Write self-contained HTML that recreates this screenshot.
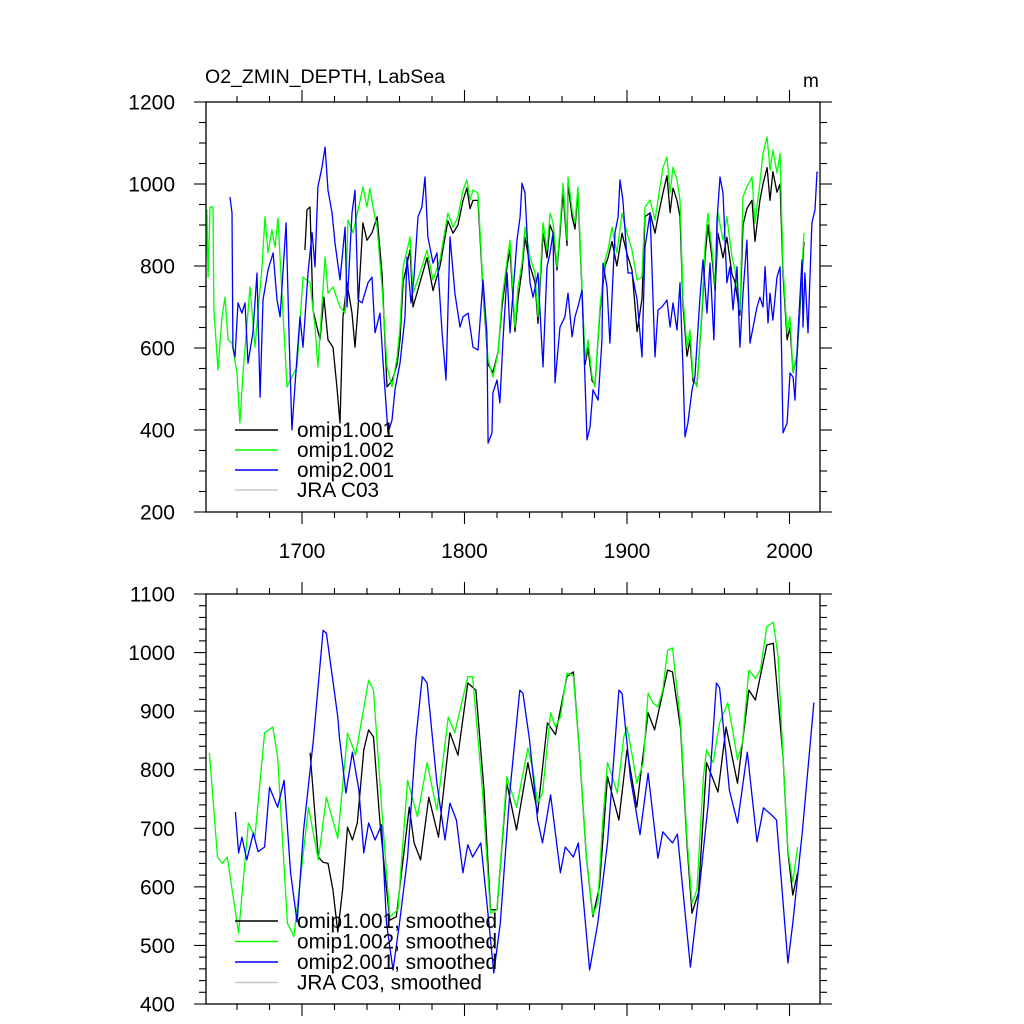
<!DOCTYPE html>
<html><head><meta charset="utf-8"><style>
html,body{margin:0;padding:0;background:#fff;}
svg{display:block;font-family:"Liberation Sans",Arial,sans-serif;}
</style></head><body>
<svg id="chart" width="1024" height="1024" viewBox="0 0 1024 1024" xmlns="http://www.w3.org/2000/svg">
<rect width="1024" height="1024" fill="#fff"/>
<text x="205" y="83" font-size="19" textLength="240" lengthAdjust="spacingAndGlyphs">O2_ZMIN_DEPTH, LabSea</text>
<text x="803" y="87" font-size="19">m</text>
<g id="top"></g><g id="bot"></g>
</svg>
<script>
const xTickYears = [1700, 1800, 1900, 2000];
const topYTicks = [200, 400, 600, 800, 1000, 1200];
const botYTicks = [400, 500, 600, 700, 800, 900, 1000, 1100];

const rawBlack = [[1701.8,839],[1703.1,937],[1704.9,944],[1706.8,693],[1709.2,651],[1711.1,620],[1713.5,724],[1716,620],[1719.1,602],[1721.5,505],[1723.4,417],[1725.2,676],[1727.7,759],[1730.8,685],[1732.6,602],[1734.5,700],[1737.5,905],[1740,863],[1743.1,881],[1746.2,920],[1749.2,783],[1752.3,505],[1755.4,520],[1758.5,560],[1760.3,620],[1762.2,760],[1766.5,840],[1768.3,700],[1772.6,760],[1776.9,820],[1780.6,740],[1784.9,800],[1789.8,910],[1792.9,880],[1796,900],[1799.1,960],[1801.5,990],[1803.4,940],[1805.2,960],[1808.3,960],[1811.4,740],[1814.5,560],[1817.5,540],[1820.6,590],[1823.1,700],[1826.2,800],[1828,840],[1831.1,640],[1832.9,720],[1835.4,790],[1837.2,870],[1840.3,800],[1843.4,760],[1845.2,660],[1848.3,880],[1850.8,820],[1852.6,900],[1854.5,880],[1856.9,790],[1858.8,880],[1860.6,980],[1863.1,850],[1863.7,1000],[1866.2,920],[1868,890],[1869.8,980],[1872.3,740],[1874.2,560],[1876,600],[1878.5,520],[1880.3,510],[1883.4,690],[1886.5,800],[1888.3,820],[1890.8,860],[1893.8,800],[1896.9,880],[1900,830],[1903.1,790],[1906.2,640],[1909.2,720],[1911.1,920],[1914.2,930],[1917.2,880],[1919.1,920],[1922.2,980],[1924.6,1020],[1926.5,930],[1928.3,990],[1930.8,960],[1932.6,920],[1934.5,700],[1936.9,580],[1938.8,620],[1940.6,520],[1943.1,510],[1946.2,690],[1948,820],[1949.8,900],[1952.3,820],[1954.2,740],[1956,880],[1959.1,820],[1961.5,870],[1964.6,780],[1966.5,760],[1969.5,680],[1971.4,900],[1973.8,940],[1976.9,960],[1978.8,860],[1981.8,960],[1983.7,1000],[1986.2,1040],[1988,960],[1989.8,1030],[1992.3,980],[1994.2,1000],[1996,780],[1998.5,620],[2000.3,650],[2002.2,540],[2004.6,580],[2006.5,700],[2008.9,860]];

const rawGreen = [[1641,822],[1641.5,937],[1642.2,773],[1643.4,944],[1645.2,944],[1645.8,693],[1648.3,546],[1650.8,676],[1652.6,724],[1654.5,620],[1656.9,612],[1660,539],[1661.8,417],[1663.7,539],[1668,749],[1671.1,602],[1675.4,798],[1677.2,920],[1679.1,832],[1681.5,888],[1683.4,846],[1685.2,917],[1688.3,685],[1690.8,505],[1693.8,529],[1696.9,554],[1700.6,773],[1704.9,759],[1708,651],[1709.8,554],[1714.2,822],[1716,734],[1719.1,749],[1723.4,700],[1726.5,685],[1728.3,912],[1731.4,881],[1734.5,937],[1737.5,993],[1740,944],[1741.8,990],[1743.7,944],[1746.2,895],[1749.2,749],[1752.3,554],[1755.4,505],[1758.5,578],[1760.3,651],[1762.2,798],[1766.5,871],[1768.3,734],[1772.6,783],[1776.9,839],[1780.6,766],[1784.9,815],[1789.8,929],[1792.9,895],[1796,920],[1799.1,985],[1801.5,1010],[1803.4,961],[1805.2,985],[1808.3,978],[1811.4,749],[1814.5,571],[1817.5,529],[1820.6,588],[1823.1,717],[1826.2,815],[1828,863],[1831.1,651],[1832.9,749],[1835.4,807],[1837.2,895],[1840.3,822],[1843.4,783],[1845.2,676],[1848.3,905],[1850.8,839],[1852.6,929],[1854.5,905],[1856.9,798],[1858.8,895],[1860.6,1002],[1863.1,863],[1863.7,1017],[1866.2,937],[1868,905],[1869.8,993],[1872.3,749],[1874.2,571],[1876,620],[1878.5,529],[1880.3,505],[1883.4,700],[1886.5,815],[1888.3,839],[1890.8,895],[1893.8,832],[1896.9,929],[1900,881],[1903.1,839],[1906.2,766],[1909.2,773],[1911.1,944],[1914.2,961],[1917.2,912],[1919.1,961],[1922.2,1041],[1924.6,1066],[1926.5,978],[1928.3,1041],[1930.8,1010],[1932.6,961],[1934.5,717],[1936.9,602],[1938.8,644],[1940.6,529],[1943.1,505],[1946.2,700],[1948,846],[1949.8,929],[1952.3,839],[1954.2,749],[1956,929],[1959.1,863],[1961.5,920],[1964.6,822],[1966.5,790],[1969.5,693],[1971.4,969],[1973.8,993],[1976.9,1017],[1978.8,905],[1981.8,1002],[1983.7,1075],[1986.2,1115],[1988,1034],[1989.8,1083],[1992.3,1027],[1994.2,1075],[1996,798],[1998.5,637],[2000.3,676],[2002.2,539],[2004.6,588],[2006.5,717],[2008.9,881]];

const rawBlue = [[1655.7,968],[1656.9,929],[1657.5,602],[1658.8,578],[1660.6,710],[1663,685],[1664.9,710],[1666.8,563],[1669.8,637],[1672.3,783],[1674.2,480],[1676,717],[1679.1,790],[1682.2,832],[1684.6,717],[1686.5,676],[1690.2,905],[1692,637],[1693.8,400],[1696.9,578],[1698.8,676],[1700.6,602],[1703.7,783],[1706.2,881],[1708,798],[1709.8,993],[1712.3,1041],[1714.2,1090],[1716,985],[1718.5,929],[1720.3,856],[1723.4,766],[1726.5,895],[1727.7,700],[1730.8,929],[1732.6,985],[1734.5,717],[1736.9,710],[1740.6,759],[1743.1,773],[1744.9,637],[1748,685],[1749.8,571],[1752.9,393],[1755.4,424],[1757.2,498],[1760.3,563],[1763.4,676],[1764.6,822],[1767.1,710],[1768.9,773],[1771.4,920],[1773.8,944],[1775.7,1017],[1777.5,871],[1780.6,807],[1783.1,832],[1786.2,637],[1788.6,522],[1791.1,871],[1794.1,734],[1797.2,651],[1799.1,676],[1802.2,685],[1805.2,602],[1808.3,595],[1811.4,766],[1813.8,637],[1814.5,368],[1816.9,393],[1817.5,490],[1820,522],[1821.8,466],[1823.7,620],[1826.2,783],[1828,637],[1832.3,863],[1834.2,920],[1835.4,1002],[1837.2,978],[1839.1,832],[1840.3,759],[1842.2,724],[1845.2,783],[1846.5,685],[1848.3,554],[1850.8,798],[1852.6,832],[1854.5,881],[1855.7,515],[1858.8,651],[1861.8,676],[1863.7,734],[1866.2,627],[1868,676],[1869.8,700],[1872.3,741],[1875.4,376],[1877.2,407],[1879.1,498],[1882.2,473],[1884.6,620],[1885.2,807],[1887.7,749],[1889.5,612],[1892.6,881],[1894.5,920],[1895.7,1010],[1897.5,961],[1898.8,888],[1900.6,783],[1903.1,783],[1906.2,717],[1909.2,578],[1911.1,846],[1914.2,929],[1917.2,578],[1919.1,693],[1921.5,700],[1924.6,717],[1926.5,651],[1928.3,710],[1930.8,644],[1932.6,759],[1934.5,539],[1935.7,383],[1937.5,417],[1940,498],[1941.8,529],[1944.9,724],[1946.8,815],[1949.2,685],[1951.1,807],[1953.5,620],[1955.4,912],[1957.2,1017],[1959.1,978],[1961.5,759],[1963.4,798],[1965.2,693],[1967.7,798],[1969.5,602],[1971.4,734],[1973.8,863],[1975.7,612],[1980,700],[1981.8,724],[1983.7,700],[1985,798],[1986.8,661],[1988,734],[1989.8,668],[1992.3,773],[1994.2,798],[1996,393],[1998.5,417],[2000.3,539],[2002.2,529],[2003.4,473],[2005.2,637],[2007.7,815],[2008.3,651],[2009.5,783],[2011.4,637],[2013.8,905],[2015.7,937],[2016.9,1029],[2017.5,1027]];

const smBlack = [[1705,829],[1710,651],[1713,642],[1716,640],[1719,595],[1722,523],[1725,595],[1728,702],[1731,680],[1734,709],[1738,834],[1741,868],[1744,856],[1748,709],[1751,624],[1754,543],[1758,549],[1766,736],[1769,675],[1773,646],[1778,753],[1784,685],[1791,863],[1796,825],[1802,948],[1807,936],[1812,765],[1816,561],[1820,561],[1826,777],[1832,697],[1839,812],[1845,726],[1851,880],[1856,860],[1863,959],[1867,967],[1871,820],[1875,650],[1879,549],[1883,600],[1888,788],[1895,714],[1900,834],[1906,736],[1913,897],[1917,868],[1925,970],[1928,967],[1933,870],[1937,670],[1940,555],[1944,590],[1949,812],[1956,762],[1961,873],[1968,777],[1975,936],[1979,919],[1986,1013],[1990,1016],[1996,822],[1999,660],[2002,586],[2005,624]];
const smGreen = [[1643,829],[1648,651],[1651,640],[1654,651],[1657,595],[1661,521],[1667,709],[1671,685],[1677,863],[1682,873],[1685,822],[1691,538],[1695,515],[1704,736],[1710,646],[1715,753],[1722,683],[1728,863],[1733,825],[1741,953],[1744,936],[1749,736],[1754,549],[1759,561],[1765,782],[1771,720],[1777,812],[1783,731],[1790,890],[1794,863],[1802,959],[1805,959],[1811,765],[1816,555],[1820,561],[1826,788],[1832,736],[1839,837],[1842,800],[1845,743],[1848,760],[1853,897],[1856,873],[1859,890],[1863,965],[1867,960],[1871,822],[1875,651],[1879,552],[1882,572],[1885,709],[1888,812],[1890,796],[1894,760],[1898,856],[1900,873],[1904,812],[1906,777],[1910,812],[1913,931],[1916,914],[1919,907],[1922,936],[1925,1004],[1928,1008],[1933,880],[1937,680],[1940,572],[1943,595],[1947,788],[1949,834],[1953,812],[1957,880],[1962,914],[1965,868],[1968,817],[1971,846],[1975,970],[1979,956],[1982,970],[1986,1044],[1990,1052],[1993,993],[1996,822],[1999,663],[2002,608],[2005,668]];
const smBlue = [[1659,728],[1661,658],[1663,685],[1666,646],[1670,692],[1673,660],[1677,668],[1680,770],[1685,736],[1689,782],[1693,624],[1697,540],[1701,697],[1707,851],[1713,1038],[1715,1033],[1722,890],[1723,856],[1727,760],[1731,830],[1735,765],[1738,658],[1741,709],[1745,680],[1749,706],[1752,538],[1756,458],[1760,538],[1765,651],[1770,851],[1774,959],[1777,948],[1783,777],[1788,680],[1791,743],[1795,714],[1799,624],[1802,672],[1805,651],[1810,675],[1814,566],[1818,453],[1822,538],[1828,765],[1834,936],[1836,930],[1840,851],[1845,714],[1848,675],[1853,757],[1859,624],[1862,668],[1867,651],[1870,675],[1877,458],[1882,538],[1888,675],[1895,936],[1897,930],[1902,788],[1908,689],[1913,794],[1919,649],[1922,694],[1928,675],[1931,690],[1939,463],[1944,583],[1950,743],[1955,948],[1957,940],[1963,765],[1968,709],[1974,830],[1980,677],[1984,735],[1990,720],[1992,714],[1999,470],[2002,538],[2008,697],[2015,915]];

const NS = 'http://www.w3.org/2000/svg';
const L = 206, R = 820;
const xScale = yr => 302 + (yr - 1700) * 1.625;
function mk(parent, tag, attrs) {
  const e = document.createElementNS(NS, tag);
  for (const k in attrs) e.setAttribute(k, attrs[k]);
  parent.appendChild(e);
  return e;
}
function panel(g, top, bottom, ymin, ymax, yMinorStep, yTicks, showXLabels, series, legendLabels, legendY0, legendDy, prefix) {
  const yScale = v => bottom - (v - ymin) * (bottom - top) / (ymax - ymin);
  series.forEach(s => {
    const d = s.data.map((p, i) => (i ? 'L' : 'M') + xScale(p[0]).toFixed(1) + ' ' + yScale(p[1]).toFixed(1)).join('');
    const p = mk(g, 'path', {d: d, fill: 'none', stroke: s.color, 'stroke-width': 1.3, 'stroke-linejoin': 'round'});
    
    
  });
  const fr = mk(g, 'rect', {x: L, y: top, width: R - L, height: bottom - top, fill: 'none', stroke: '#000', 'stroke-width': 1.3});
  
  
  const xt = mk(g, 'g', {stroke: '#000', 'stroke-width': 1.1});
  
  
  for (let yr = 1640; yr <= 2020; yr += 20) {
    const x = xScale(yr);
    if (x < L - 0.5 || x > R + 0.5) continue;
    const major = yr % 100 === 0;
    const len = major ? 12 : 6;
    mk(xt, 'line', {x1: x, x2: x, y1: bottom, y2: bottom + len});
    mk(xt, 'line', {x1: x, x2: x, y1: top, y2: top - len});
  }
  if (showXLabels) {
    xTickYears.forEach(yr => {
      const t = mk(g, 'text', {x: xScale(yr), y: bottom + 46, 'font-size': 21, 'text-anchor': 'middle'});
      
      
      t.textContent = yr;
    });
  }
  const yt = mk(g, 'g', {stroke: '#000', 'stroke-width': 1.1});
  
  
  for (let v = ymin; v <= ymax + 0.01; v += yMinorStep) {
    const y = yScale(v);
    const major = yTicks.indexOf(Math.round(v)) >= 0;
    const len = major ? 12 : 7;
    mk(yt, 'line', {x1: L, x2: L - len, y1: y, y2: y});
    mk(yt, 'line', {x1: R, x2: R + len, y1: y, y2: y});
  }
  yTicks.forEach(v => {
    const t = mk(g, 'text', {x: 175, y: yScale(v) + 7.5, 'font-size': 21, 'text-anchor': 'end'});
    
    
    t.textContent = v;
  });
  const lg = mk(g, 'g', {});
  
  
  const cols = ['#000', '#00ff00', '#0000ff', '#c8c8c8'];
  legendLabels.forEach((lab, i) => {
    const y = legendY0 + i * legendDy;
    const ln = mk(lg, 'line', {x1: 235, x2: 278, y1: y, y2: y, stroke: cols[i], 'stroke-width': 1.4});
    
    
    const t = mk(lg, 'text', {x: 297, y: y + 7, 'font-size': 20.8});
    
    
    t.textContent = lab;
  });
}
panel(document.getElementById('top'), 102, 512, 200, 1200, 50, topYTicks, true,
  [{name: 'omip1-001', color: '#000', data: rawBlack}, {name: 'omip1-002', color: '#00ff00', data: rawGreen}, {name: 'omip2-001', color: '#0000ff', data: rawBlue}],
  ['omip1.001', 'omip1.002', 'omip2.001', 'JRA C03'], 430, 20, 'top');
panel(document.getElementById('bot'), 594, 1004, 400, 1100, 20, botYTicks, false,
  [{name: 'omip1-001-smoothed', color: '#000', data: smBlack}, {name: 'omip1-002-smoothed', color: '#00ff00', data: smGreen}, {name: 'omip2-001-smoothed', color: '#0000ff', data: smBlue}],
  ['omip1.001, smoothed', 'omip1.002, smoothed', 'omip2.001, smoothed', 'JRA C03, smoothed'], 921, 20.5, 'bottom');
</script>
</body></html>
